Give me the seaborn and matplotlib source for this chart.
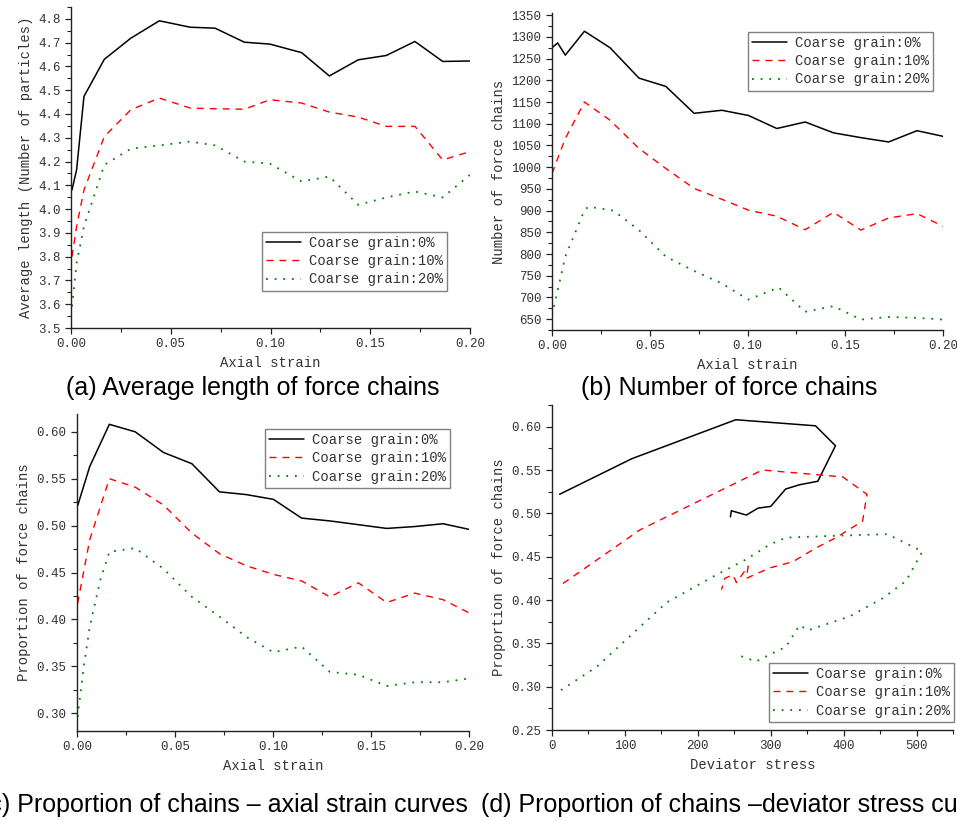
import numpy as np
import matplotlib
matplotlib.use("Agg")
import matplotlib.pyplot as plt
from matplotlib.ticker import MultipleLocator, FormatStrFormatter
import seaborn as sns

# ---- data ----
labels = ["Coarse grain:0%", "Coarse grain:10%", "Coarse grain:20%"]

# (a) average length of force chains
a_x0 = [0.0005, 0.0028, 0.0065, 0.0167, 0.030, 0.0443, 0.0597, 0.0722, 0.0869, 0.0997, 0.1156, 0.1295, 0.144, 0.158, 0.1724, 0.1863, 0.200]
a_y0 = [4.081, 4.165, 4.474, 4.630, 4.719, 4.792, 4.765, 4.761, 4.702, 4.694, 4.658, 4.560, 4.628, 4.646, 4.705, 4.621, 4.623]
a_y1 = [3.800, 3.927, 4.080, 4.305, 4.418, 4.467, 4.425, 4.422, 4.420, 4.460, 4.446, 4.408, 4.387, 4.348, 4.348, 4.207, 4.242]
a_y2 = [3.591, 3.773, 3.927, 4.186, 4.254, 4.268, 4.284, 4.268, 4.200, 4.191, 4.116, 4.137, 4.018, 4.049, 4.074, 4.049, 4.144]

# (b) number of force chains
b_x = [0.0, 0.0029, 0.0068, 0.0166, 0.0297, 0.0445, 0.0582, 0.0727, 0.0869, 0.1005, 0.115, 0.1295, 0.144, 0.158, 0.1722, 0.1867, 0.200]
b_y0 = [1275, 1286, 1258, 1313, 1275, 1205, 1186, 1124, 1131, 1119, 1089, 1104, 1079, 1068, 1058, 1084, 1071]
b_y1 = [985, 1020, 1066, 1150, 1108, 1043, 997, 951, 926, 901, 887, 856, 896, 855, 883, 893, 864]
b_x2 = [0.0, 0.0029, 0.0068, 0.0166, 0.0186, 0.0314, 0.0445, 0.0582, 0.0727, 0.0869, 0.1005, 0.1159, 0.1295, 0.144, 0.158, 0.1722, 0.1867, 0.200]
b_y2 = [659, 716, 794, 901, 909, 900, 855, 794, 761, 732, 695, 723, 667, 680, 649, 655, 653, 649]

# (c) proportion of chains vs axial strain
c_x = [0.0003, 0.0065, 0.0165, 0.0297, 0.0441, 0.0586, 0.0727, 0.0866, 0.1002, 0.1146, 0.129, 0.1435, 0.158, 0.1723, 0.1868, 0.200]
c_y0 = [0.521, 0.563, 0.608, 0.600, 0.578, 0.566, 0.536, 0.533, 0.528, 0.508, 0.505, 0.501, 0.497, 0.499, 0.502, 0.496]
c_y1 = [0.417, 0.485, 0.550, 0.541, 0.522, 0.492, 0.470, 0.457, 0.448, 0.441, 0.424, 0.439, 0.418, 0.428, 0.421, 0.407]
c_x2 = [0.0003, 0.0034, 0.0065, 0.0119, 0.0165, 0.0297, 0.0441, 0.0586, 0.0727, 0.0866, 0.1002, 0.1146, 0.129, 0.1435, 0.158, 0.1723, 0.1868, 0.200]
c_y2 = [0.296, 0.349, 0.392, 0.442, 0.472, 0.476, 0.454, 0.424, 0.403, 0.381, 0.365, 0.371, 0.344, 0.341, 0.329, 0.333, 0.333, 0.337]

# (d) proportion of chains vs deviator stress
d_x0 = [10.5, 109.4, 252, 361.4, 388.8, 364.6, 339.6, 320.4, 300, 282.6, 266.6, 246, 244.7]
d_y0 = [0.522, 0.563, 0.608, 0.601, 0.578, 0.537, 0.533, 0.528, 0.508, 0.506, 0.498, 0.503, 0.496]
d_x1 = [15, 120.8, 288.5, 398.8, 432, 426, 389.7, 362, 330, 298.5, 266.6, 269, 253, 248, 237, 232.5]
d_y1 = [0.419, 0.481, 0.550, 0.542, 0.522, 0.491, 0.472, 0.460, 0.444, 0.437, 0.425, 0.439, 0.420, 0.429, 0.425, 0.412]
d_x2 = [12.3, 61.5, 111.7, 157, 221, 266.6, 298.5, 321, 385, 460, 508, 485.6, 453.5, 408, 351, 339.6, 321, 298.5, 280, 266.6, 253]
d_y2 = [0.296, 0.323, 0.362, 0.397, 0.427, 0.447, 0.464, 0.472, 0.474, 0.476, 0.456, 0.422, 0.402, 0.381, 0.365, 0.371, 0.346, 0.337, 0.329, 0.333, 0.337]

# ---- style ----
sns.set_style("ticks")
plt.rcParams["font.family"] = ["Liberation Mono", "DejaVu Sans"]
txt = "#333333"
colors = ["black", "red", "green"]
styles = ["-", (0, (5, 4.3)), (0, (1, 3.8))]
widths = [1.1, 1.0, 1.3]

W, H = 957, 821
fig = plt.figure(figsize=(W / 100, H / 100), dpi=100)


def box(l, t, r, b):
    return [l / W, 1 - b / H, (r - l) / W, (b - t) / H]


def draw(ax, xs, ys):
    for x, y, c, ls, lw, lab in zip(xs, ys, colors, styles, widths, labels):
        sns.lineplot(x=x, y=y, ax=ax, color=c, linestyle=ls, linewidth=lw,
                     sort=False, estimator=None, label=lab)


def style_ax(ax, xlab, ylab, leg_xy):
    sns.despine(ax=ax)
    for s in ["left", "bottom"]:
        ax.spines[s].set_linewidth(1.0)
        ax.spines[s].set_color("#222222")
    ax.tick_params(which="major", direction="out", length=4, width=0.9,
                   labelsize=9, labelcolor=txt, color="#222222")
    ax.tick_params(which="minor", direction="out", length=3, width=0.8, color="#222222")
    ax.set_xlabel(xlab, fontsize=10, color=txt)
    ax.set_ylabel(ylab, fontsize=10, color=txt)
    leg = ax.legend(loc="upper left", bbox_to_anchor=(leg_xy[0] / W, 1 - leg_xy[1] / H),
                    bbox_transform=fig.transFigure, borderaxespad=0, fontsize=10,
                    frameon=True, fancybox=False, framealpha=1, edgecolor="#808080",
                    handlelength=2.5, handletextpad=0.6, labelspacing=0.3, borderpad=0.3)
    leg.get_frame().set_linewidth(1.0)
    for t in leg.get_texts():
        t.set_color(txt)


# (a)
ax = fig.add_axes(box(71, 7, 470, 328))
draw(ax, [a_x0, a_x0, a_x0], [a_y0, a_y1, a_y2])
ax.set_xlim(0, 0.2)
ax.set_ylim(3.5, 4.85)
ax.xaxis.set_major_locator(MultipleLocator(0.05))
ax.xaxis.set_minor_locator(MultipleLocator(0.025))
ax.xaxis.set_major_formatter(FormatStrFormatter("%.2f"))
ax.yaxis.set_major_locator(MultipleLocator(0.1))
ax.yaxis.set_minor_locator(MultipleLocator(0.05))
ax.yaxis.set_major_formatter(FormatStrFormatter("%.1f"))
style_ax(ax, "Axial strain", "Average length (Number of particles)", (262, 232))

# (b)
ax = fig.add_axes(box(552, 13, 943, 330))
draw(ax, [b_x, b_x, b_x2], [b_y0, b_y1, b_y2])
ax.set_xlim(0, 0.2)
ax.set_ylim(625, 1355)
ax.xaxis.set_major_locator(MultipleLocator(0.05))
ax.xaxis.set_minor_locator(MultipleLocator(0.025))
ax.xaxis.set_major_formatter(FormatStrFormatter("%.2f"))
ax.yaxis.set_major_locator(MultipleLocator(50))
ax.yaxis.set_minor_locator(MultipleLocator(25))
style_ax(ax, "Axial strain", "Number of force chains", (748, 32))

# (c)
ax = fig.add_axes(box(77, 414, 469, 731))
draw(ax, [c_x, c_x, c_x2], [c_y0, c_y1, c_y2])
ax.set_xlim(0, 0.2)
ax.set_ylim(0.281, 0.619)
ax.xaxis.set_major_locator(MultipleLocator(0.05))
ax.xaxis.set_minor_locator(MultipleLocator(0.025))
ax.xaxis.set_major_formatter(FormatStrFormatter("%.2f"))
ax.yaxis.set_major_locator(MultipleLocator(0.05))
ax.yaxis.set_minor_locator(MultipleLocator(0.025))
ax.yaxis.set_major_formatter(FormatStrFormatter("%.2f"))
style_ax(ax, "Axial strain", "Proportion of force chains", (265, 429))

# (d)
ax = fig.add_axes(box(552, 405, 953, 730))
draw(ax, [d_x0, d_x1, d_x2], [d_y0, d_y1, d_y2])
ax.set_xlim(0, 550)
ax.set_ylim(0.25, 0.625)
ax.xaxis.set_major_locator(MultipleLocator(100))
ax.xaxis.set_minor_locator(MultipleLocator(50))
ax.yaxis.set_major_locator(MultipleLocator(0.05))
ax.yaxis.set_minor_locator(MultipleLocator(0.025))
ax.yaxis.set_major_formatter(FormatStrFormatter("%.2f"))
style_ax(ax, "Deviator stress", "Proportion of force chains", (769, 663))

# captions (the two lower ones run off the edges, as in the source image)
cap = dict(fontsize=18, family=["Liberation Sans", "DejaVu Sans"], color="black", va="center")
fig.text(253 / W, 1 - 388 / H, "(a) Average length of force chains", ha="center", **cap)
fig.text(729 / W, 1 - 388 / H, "(b) Number of force chains", ha="center", **cap)
fig.text(468 / W, 1 - 805 / H, "(c) Proportion of chains \u2013 axial strain curves", ha="right", **cap)
fig.text(481 / W, 1 - 805 / H, "(d) Proportion of chains \u2013deviator stress curves", ha="left", **cap)

fig.savefig("out.png", dpi=100)
